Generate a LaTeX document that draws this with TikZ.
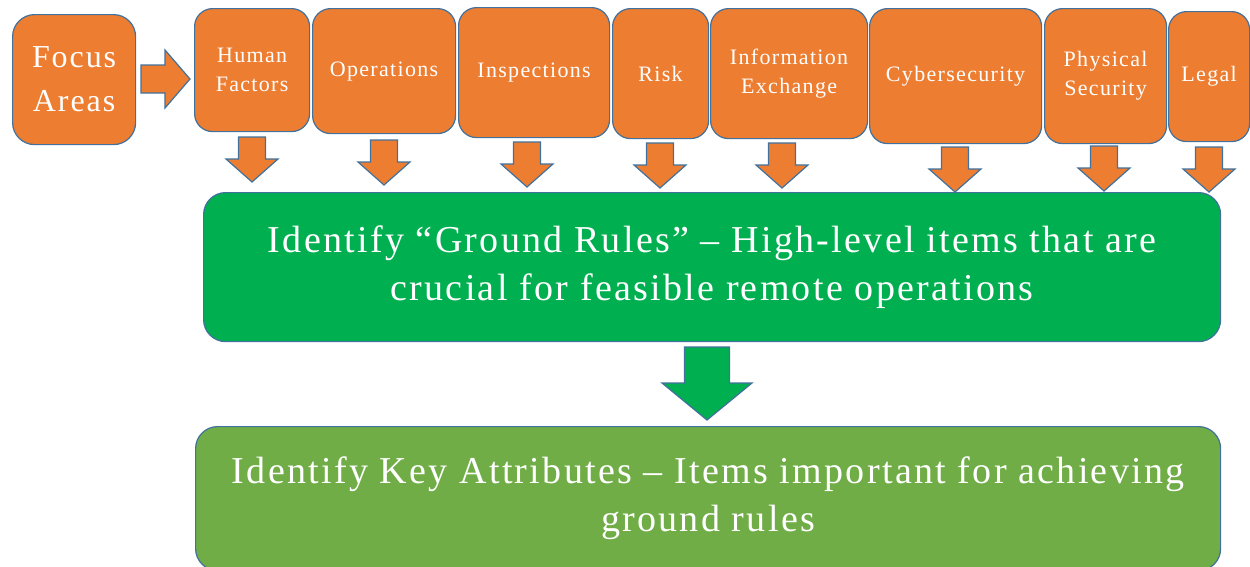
\documentclass[tikz,border=0pt]{standalone}
\usepackage{fontspec}
\setmainfont{Liberation Serif}[LetterSpace=6]
\definecolor{orng}{HTML}{ED7D31}
\definecolor{grn}{HTML}{00B050}
\definecolor{lgrn}{HTML}{70AD47}
\definecolor{bord}{HTML}{41719C}
\begin{document}
\begin{tikzpicture}[x=1pt,y=-1pt,
  base/.style={draw=bord, line width=1.2pt, text=white, align=center, inner sep=0pt, anchor=north west},
  obox/.style={base, fill=orng, rounded corners=18pt, font=\fontsize{22}{29}\selectfont},
  fbox/.style={base, fill=orng, rounded corners=22pt, font=\fontsize{32}{44}\selectfont},
  gbox/.style={base, fill=grn, rounded corners=22pt, font=\fontsize{38}{48}\selectfont},
  lbox/.style={base, fill=lgrn, rounded corners=22pt, font=\fontsize{38}{48}\selectfont},
  arr/.style={draw=bord, line width=1.2pt, fill=orng, line join=miter},
  darrow/.pic={\draw[arr] (-13.5,0) -- (13.5,0) -- (13.5,22) -- (26,22) -- (0,45) -- (-26,22) -- (-13.5,22) -- cycle;},
  garrow/.pic={\draw[arr, fill=grn] (-22.5,0) -- (22.5,0) -- (22.5,36) -- (45,36) -- (0,73) -- (-45,36) -- (-22.5,36) -- cycle;}
]
\clip (0,0) rectangle (1250,566);
\fill[white] (0,0) rectangle (1250,566);

\node[fbox, minimum width=123, minimum height=130] (fa) at (12,14) {Focus\\Areas};
\node[obox, minimum width=115, minimum height=123] (hf) at (194,8) {Human\\Factors};
\node[obox, minimum width=143, minimum height=125] (op) at (312,8) {Operations};
\node[obox, minimum width=151, minimum height=130] (in) at (458,7) {Inspections};
\node[obox, minimum width=96, minimum height=130] (ri) at (612,8) {Risk};
\node[obox, minimum width=157, minimum height=130] (ie) at (710,8) {Information\\Exchange};
\node[obox, minimum width=172, minimum height=135] (cy) at (869,8) {Cybersecurity};
\node[obox, minimum width=122, minimum height=135] (ps) at (1044,8) {Physical\\Security};
\node[obox, minimum width=81, minimum height=130] (le) at (1168,11) {Legal};

\node[gbox, minimum width=1017, minimum height=149] (g1) at (203,192) {Identify “Ground Rules” – High-level items that are\\crucial for feasible remote operations};
\node[lbox, minimum width=1025, minimum height=144] (g2) at (195,426) {Identify Key Attributes – Items important for achieving\\ground rules};

% right arrow from Focus Areas to Human Factors
\draw[arr] (141,65) -- (165,65) -- (165,50) -- (190,79) -- (165,108) -- (165,93) -- (141,93) -- cycle;

% down arrows
\pic at (252,137) {darrow};
\pic at (384,140) {darrow};
\pic at (527,142) {darrow};
\pic at (660,143) {darrow};
\pic at (782,143) {darrow};
\pic at (955,147) {darrow};
\pic at (1104,146) {darrow};
\pic at (1209,147) {darrow};

% green arrow
\pic at (707,347) {garrow};
\end{tikzpicture}
\end{document}
